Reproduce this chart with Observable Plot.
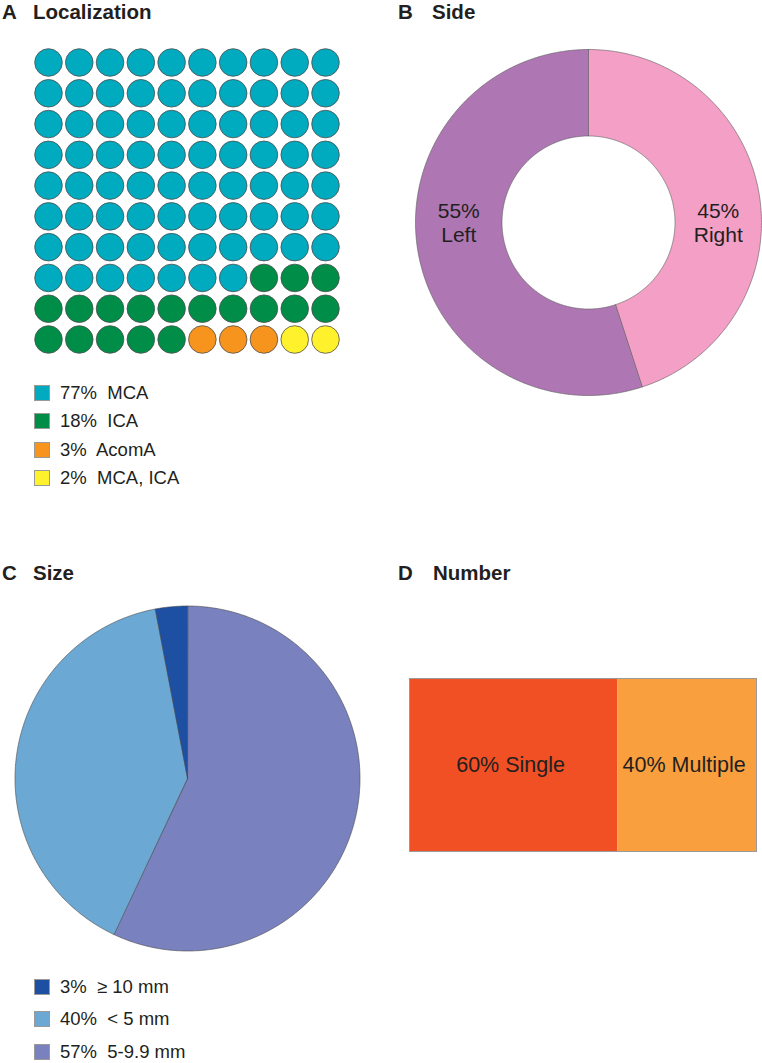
<!DOCTYPE html>
<html>
<head>
<meta charset="utf-8">
<script src="https://cdn.jsdelivr.net/npm/d3@7"></script>
<script src="https://cdn.jsdelivr.net/npm/@observablehq/plot@0.6"></script>
<style>
  html, body { margin: 0; padding: 0; background: #fff; }
  body { font-family: "Liberation Sans", Arial, Helvetica, sans-serif; color: #231f20; }
  #page { position: relative; width: 762px; height: 1063px; overflow: hidden; }
  .panel { position: absolute; }
  .title { position: absolute; font-size: 20.5px; font-weight: bold; line-height: 20px; white-space: pre; color: #231f20; }
  .title .let { display: inline-block; }
  .legend { position: absolute; font-size: 18.5px; }
  .legend .row { position: absolute; left: 0; display: flex; align-items: center; white-space: pre; height: 16px; line-height: 16px; }
  .legend .sw { width: 16px; height: 16px; box-sizing: border-box; border: 1px solid #9a9a9a; margin-right: 10px; }
</style>
</head>
<body>
<div id="page"></div>
<script>
// ---------- DATA ----------
const locCategories = ["MCA", "ICA", "AcomA", "MCA, ICA"];
const locValues = [77, 18, 3, 2];
const locColors = ["#00aabf", "#008d47", "#f7941e", "#fff22d"];

const sideCategories = ["Right", "Left"];
const sideValues = [45, 55];
const sideColors = ["#f39fc6", "#ae77b3"];

const sizeCategories = ["5-9.9 mm", "< 5 mm", "\u2265 10 mm"];
const sizeValues = [57, 40, 3];
const sizeColors = ["#7981be", "#6ca8d4", "#1d50a3"];
const sizeLegendOrder = ["\u2265 10 mm", "< 5 mm", "5-9.9 mm"];

const numberCategories = ["Single", "Multiple"];
const numberValues = [60, 40];
const numberColors = ["#f15024", "#f99f3e"];

const panelTitles = [
  {letter: "A", text: "Localization"},
  {letter: "B", text: "Side"},
  {letter: "C", text: "Size"},
  {letter: "D", text: "Number"}
];

// ---------- HELPERS ----------
const page = document.getElementById("page");
function place(el, left, top) {
  el.classList.add("panel");
  el.style.left = left + "px";
  el.style.top = top + "px";
  page.appendChild(el);
  return el;
}
function addTitle(t, left, top, gap) {
  const d = document.createElement("div");
  d.className = "title";
  d.style.left = left + "px";
  d.style.top = top + "px";
  d.innerHTML = `<span class="let" style="width:${gap}px">${t.letter}</span>${t.text}`;
  page.appendChild(d);
}
function addLegend(items, left, top, spacing) {
  const lg = document.createElement("div");
  lg.className = "legend";
  lg.style.left = left + "px";
  lg.style.top = top + "px";
  items.forEach((it, i) => {
    const r = document.createElement("div");
    r.className = "row";
    r.style.top = (i * spacing) + "px";
    r.innerHTML = `<span class="sw" style="background:${it.color}"></span><span>${it.label}</span>`;
    lg.appendChild(r);
  });
  page.appendChild(lg);
}
// polygon vertices for pie / donut slices (angles clockwise from top)
function slicePolygons(keys, values, inner) {
  const total = d3.sum(values);
  const pts = [];
  let acc = 0;
  keys.forEach((k, i) => {
    const a0 = acc / total * 2 * Math.PI;
    const a1 = (acc + values[i]) / total * 2 * Math.PI;
    const n = Math.max(2, Math.ceil((a1 - a0) / (Math.PI / 360)));
    if (inner === 0) pts.push({key: k, x: 0, y: 0});
    for (let j = 0; j <= n; j++) {
      const a = a0 + (a1 - a0) * j / n;
      pts.push({key: k, x: Math.sin(a), y: Math.cos(a)});
    }
    if (inner > 0) {
      for (let j = n; j >= 0; j--) {
        const a = a0 + (a1 - a0) * j / n;
        pts.push({key: k, x: inner * Math.sin(a), y: inner * Math.cos(a)});
      }
    }
    acc += values[i];
  });
  return pts;
}

// ---------- TITLES ----------
addTitle(panelTitles[0], 2, 1.5, 31);
addTitle(panelTitles[1], 398, 1.5, 34);
addTitle(panelTitles[2], 2, 563, 31);
addTitle(panelTitles[3], 398, 563, 35);

// ---------- A: WAFFLE ----------
const cells = [];
locCategories.forEach((c, ci) => {
  for (let k = 0; k < locValues[ci]; k++) cells.push({cat: c});
});
cells.forEach((d, i) => { d.col = i % 10; d.row = Math.floor(i / 10); });

const waffle = Plot.plot({
  width: 360, height: 360,
  x: {domain: [0, 9], range: [48, 325], axis: null},
  y: {domain: [0, 9], range: [62, 339], axis: null},
  color: {domain: locCategories, range: locColors},
  marks: [
    Plot.dot(cells, {x: "col", y: "row", r: 13.8, fill: "cat", stroke: "#4d4d4d", strokeWidth: 0.8})
  ]
});
place(waffle, 0, 0);
addLegend(locCategories.map((c, i) => ({label: `${locValues[i]}%  ${c}`, color: locColors[i]})), 34, 384.5, 28.5);

// ---------- B: DONUT ----------
const donutInner = 0.5;
const donutPts = slicePolygons(sideCategories, sideValues, donutInner);
const sideTotal = d3.sum(sideValues);
let sAcc = 0;
const sideLabels = sideCategories.map((c, i) => {
  const mid = (sAcc + sideValues[i] / 2) / sideTotal * 2 * Math.PI;
  sAcc += sideValues[i];
  return {text: `${sideValues[i]}%\n${c}`, x: Math.sign(Math.sin(mid)) * (1 + donutInner) / 2, y: 0};
});
const donut = Plot.plot({
  width: 382, height: 390,
  x: {domain: [-1, 1], range: [35, 381], axis: null},
  y: {domain: [-1, 1], range: [365, 19], axis: null},
  color: {domain: sideCategories, range: sideColors},
  marks: [
    Plot.line(donutPts, {x: "x", y: "y", z: "key", fill: "key", stroke: "#5a5a5a", strokeWidth: 0.6, curve: "linear-closed"}),
    Plot.text(sideLabels, {x: "x", y: "y", text: "text", fontSize: 21, lineHeight: 1.15, fill: "#231f20", fontFamily: "Liberation Sans, Arial, sans-serif"})
  ]
});
place(donut, 380, 30);

// ---------- C: PIE ----------
const piePts = slicePolygons(sizeCategories, sizeValues, 0);
const pie = Plot.plot({
  width: 380, height: 375,
  x: {domain: [-1, 1], range: [14.5, 359.5], axis: null},
  y: {domain: [-1, 1], range: [360.5, 15.5], axis: null},
  color: {domain: sizeCategories, range: sizeColors},
  marks: [
    Plot.line(piePts, {x: "x", y: "y", z: "key", fill: "key", stroke: "#4a4a4a", strokeWidth: 0.6, curve: "linear-closed"})
  ]
});
place(pie, 0, 590);
addLegend(sizeLegendOrder.map(c => {
  const i = sizeCategories.indexOf(c);
  return {label: `${sizeValues[i]}%  ${c}`, color: sizeColors[i]};
}), 34, 979, 32.3);

// ---------- D: STACKED BAR ----------
const numberData = numberCategories.map((c, i) => ({key: c, value: numberValues[i]}));
const bar = Plot.plot({
  width: 382, height: 200,
  marginTop: 18, marginBottom: 9, marginLeft: 29, marginRight: 6,
  x: {domain: [0, 100], axis: null},
  y: {axis: null},
  color: {domain: numberCategories, range: numberColors},
  marks: [
    Plot.barX(numberData, {x: "value", fill: "key"}),
    Plot.text(numberData, Plot.stackX({x: "value", text: d => `${d.value}% ${d.key}`, fontSize: 21.5, dx: -3, fill: "#231f20", fontFamily: "Liberation Sans, Arial, sans-serif"})),
    Plot.frame({stroke: "#9a9a9a", strokeWidth: 1})
  ]
});
place(bar, 380, 660);
</script>
</body>
</html>
